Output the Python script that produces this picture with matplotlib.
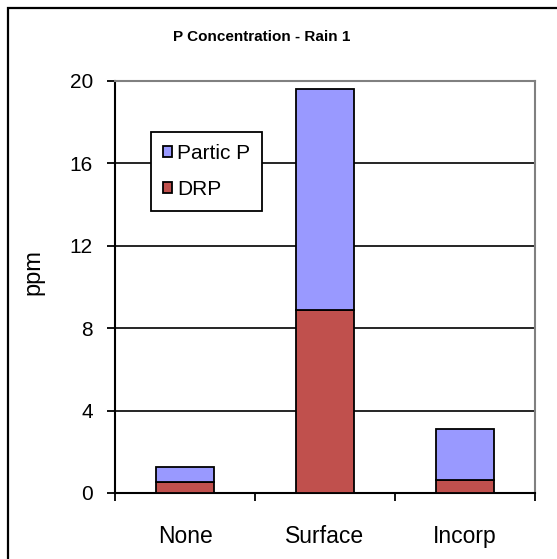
import matplotlib.pyplot as plt
from matplotlib.patches import Rectangle

plt.rcParams['font.family'] = ['Liberation Sans', 'DejaVu Sans']

treatments = ["None", "Surface", "Incorp"]
drp = [0.52, 8.9, 0.62]
total_p = [1.25, 19.6, 3.1]
partic_p = [t - d for t, d in zip(total_p, drp)]

fig = plt.figure(figsize=(5.57, 5.59), dpi=100)
ax = fig.add_axes([115/557, 66/559, 420/557, 412/559])

x = range(len(treatments))
ax.bar(x, drp, width=0.41, color="#C0504D", edgecolor="black", linewidth=1.3, label="DRP", zorder=3)
ax.bar(x, partic_p, width=0.41, bottom=drp, color="#9999FF", edgecolor="black", linewidth=1.3,
       label="Partic P", zorder=3)

ax.set_xlim(-0.5, 2.5)
ax.set_ylim(0, 20)
ax.set_yticks([0, 4, 8, 12, 16, 20])
ax.set_xticks([-0.5, 0.5, 1.5, 2.5])
ax.set_xticklabels([])
ax.set_xticks(list(x), minor=True)
ax.set_xticklabels(treatments, minor=True, fontsize=16.5)
ax.tick_params(axis='x', which='minor', length=0, pad=23)
ax.tick_params(axis='x', which='major', length=6, width=1.3, direction='out')
ax.tick_params(axis='y', length=6, width=1.3, labelsize=15, pad=10)

for v in [4, 8, 12, 16]:
    ax.axhline(v, color="black", linewidth=1.2, zorder=1)

ax.spines['left'].set_linewidth(1.5)
ax.spines['bottom'].set_linewidth(1.5)
ax.spines['top'].set_color("#808080")
ax.spines['right'].set_color("#808080")
ax.spines['top'].set_linewidth(1.5)
ax.spines['right'].set_linewidth(1.5)

ax.set_ylabel("ppm", fontsize=17)
ax.yaxis.set_label_coords(-0.167, 0.536)
fig.text(262/557, 1 - 37/559, "P Concentration - Rain 1", ha="center", va="center",
         fontsize=11, fontweight="bold")

handles, labels = ax.get_legend_handles_labels()
leg = ax.legend(handles[::-1], labels[::-1], loc="upper left", bbox_to_anchor=(0.086, 0.876),
                fontsize=15, frameon=True, fancybox=False, framealpha=1, edgecolor="black",
                handlelength=0.45, handleheight=0.45, handletextpad=0.25, labelspacing=0.85,
                borderpad=0.55, borderaxespad=0)
leg.get_frame().set_linewidth(1.3)
leg.set_zorder(5)

# outer chart border
fig.patches.append(Rectangle((8/557, -0.1), 1.2, 1 - 8/559 + 0.1, transform=fig.transFigure,
                             fill=False, edgecolor="black", linewidth=1.6))

fig.savefig("out.png", dpi=100)
